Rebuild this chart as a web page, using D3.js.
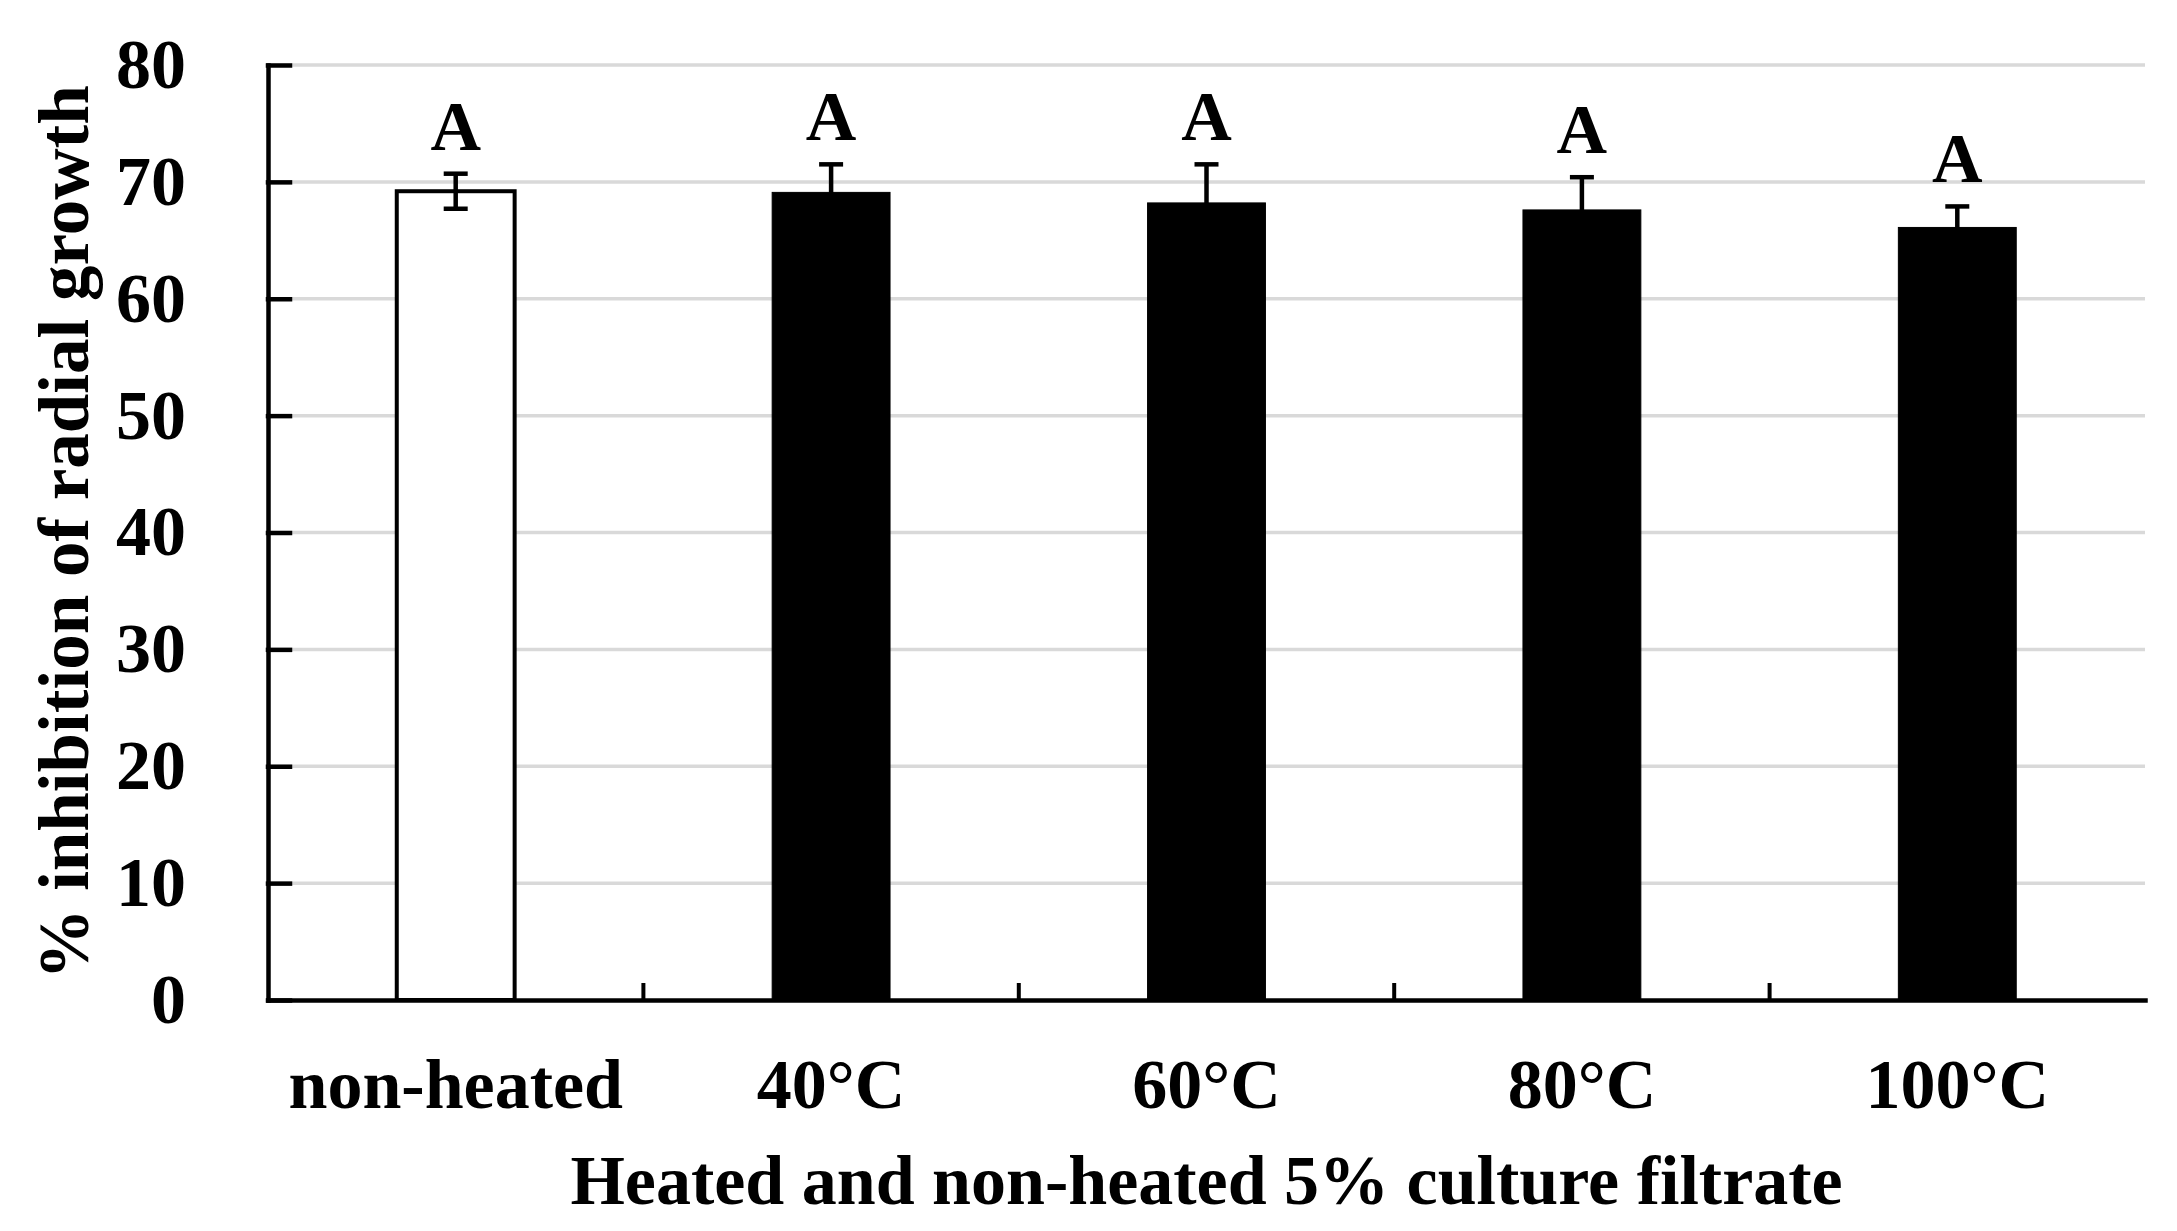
<!DOCTYPE html>
<html>
<head>
<meta charset="utf-8">
<script src="https://cdn.jsdelivr.net/npm/d3@7"></script>
<style>
  body { margin: 0; background: #fff; }
  text { font-family: "Liberation Serif", "Times New Roman", serif; font-weight: bold; }
</style>
</head>
<body>
<div id="graph"></div>
<script>
// data
const categories = ["non-heated", "40°C", "60°C", "80°C", "100°C"];
const inhibition = [69.2, 69.1, 68.2, 67.6, 66.1];
const sd = [1.5, 2.4, 3.3, 2.8, 1.8];
const letters = ["A", "A", "A", "A", "A"];
const filled = [false, true, true, true, true];
const yTicks = [0, 10, 20, 30, 40, 50, 60, 70, 80];

const W = 2177, H = 1231;
let margin = {top: 65, right: 32, bottom: 231, left: 268},
    width = W - margin.left - margin.right,
    height = H - margin.top - margin.bottom;

let svg = d3.select("#graph")
  .append("svg")
  .attr("width", W)
  .attr("height", H);

svg.append("rect").attr("width", W).attr("height", H).attr("fill", "#fff");

let g = svg.append("g")
  .attr("transform", "translate(" + margin.left + "," + margin.top + ")");

let x = d3.scaleBand()
  .domain(categories)
  .range([0, width])
  .padding(0);

let y = d3.scaleLinear()
  .domain([0, 80])
  .range([height, 0]);

// gridlines
g.append("g")
  .selectAll("line")
  .data(yTicks.filter(d => d > 0))
  .join("line")
  .attr("x1", 0)
  .attr("x2", width)
  .attr("y1", d => y(d))
  .attr("y2", d => y(d))
  .attr("stroke", "#d9d9d9")
  .attr("stroke-width", 3.5);

let barW = x.bandwidth() * 0.314;

// bars
g.append("g")
  .selectAll("rect")
  .data(categories)
  .join("rect")
  .attr("x", d => x(d) + x.bandwidth() / 2 - barW / 2)
  .attr("y", (d, i) => y(inhibition[i]))
  .attr("width", barW)
  .attr("height", (d, i) => height - y(inhibition[i]))
  .attr("fill", (d, i) => filled[i] ? "#000" : "#fff")
  .attr("stroke", "#000")
  .attr("stroke-width", (d, i) => filled[i] ? 1 : 4);

// error bars
let err = g.append("g").attr("stroke", "#000").attr("stroke-width", 4.5);
categories.forEach((c, i) => {
  let cx = x(c) + x.bandwidth() / 2;
  let hi = y(inhibition[i] + sd[i]), lo = y(inhibition[i] - sd[i]);
  err.append("line").attr("x1", cx).attr("x2", cx).attr("y1", hi).attr("y2", lo);
  err.append("line").attr("x1", cx - 12).attr("x2", cx + 12).attr("y1", hi).attr("y2", hi);
  err.append("line").attr("x1", cx - 12).attr("x2", cx + 12).attr("y1", lo).attr("y2", lo);
});

// letters
g.append("g")
  .selectAll("text")
  .data(categories)
  .join("text")
  .attr("x", d => x(d) + x.bandwidth() / 2)
  .attr("y", (d, i) => y(inhibition[i] + sd[i]) - 24)
  .attr("text-anchor", "middle")
  .attr("font-size", 70)
  .text((d, i) => letters[i]);

// y axis
let yAxis = g.append("g")
  .call(d3.axisLeft(y).tickValues(yTicks).tickSizeInner(-22).tickSizeOuter(0).tickPadding(82));
yAxis.selectAll("path, line").attr("stroke", "#000").attr("stroke-width", 4.5).attr("stroke-linecap", "square");
yAxis.selectAll("text").attr("font-size", 70).attr("fill", "#000")
  .style("font-family", "'Liberation Serif', 'Times New Roman', serif").style("font-weight", "bold");

// x axis
let xAxis = g.append("g")
  .attr("transform", "translate(0," + height + ")")
  .call(d3.axisBottom(x).tickSize(0).tickPadding(58));
xAxis.select("path").attr("stroke", "#000").attr("stroke-width", 4.5).attr("stroke-linecap", "square");
xAxis.selectAll("text").attr("font-size", 70).attr("fill", "#000")
  .style("font-family", "'Liberation Serif', 'Times New Roman', serif").style("font-weight", "bold");

// category boundary ticks pointing up
g.append("g")
  .selectAll("line")
  .data(categories.slice(1))
  .join("line")
  .attr("x1", d => x(d))
  .attr("x2", d => x(d))
  .attr("y1", height)
  .attr("y2", height - 17)
  .attr("stroke", "#000")
  .attr("stroke-width", 4);

// axis titles
svg.append("text")
  .attr("x", margin.left + width / 2)
  .attr("y", 1204)
  .attr("text-anchor", "middle")
  .attr("font-size", 70)
  .text("Heated and non-heated 5% culture filtrate");

svg.append("text")
  .attr("transform", "translate(88," + (margin.top + height / 2) + ") rotate(-90)")
  .attr("text-anchor", "middle")
  .attr("font-size", 71)
  .text("% inhibition of radial growth");
</script>
</body>
</html>
